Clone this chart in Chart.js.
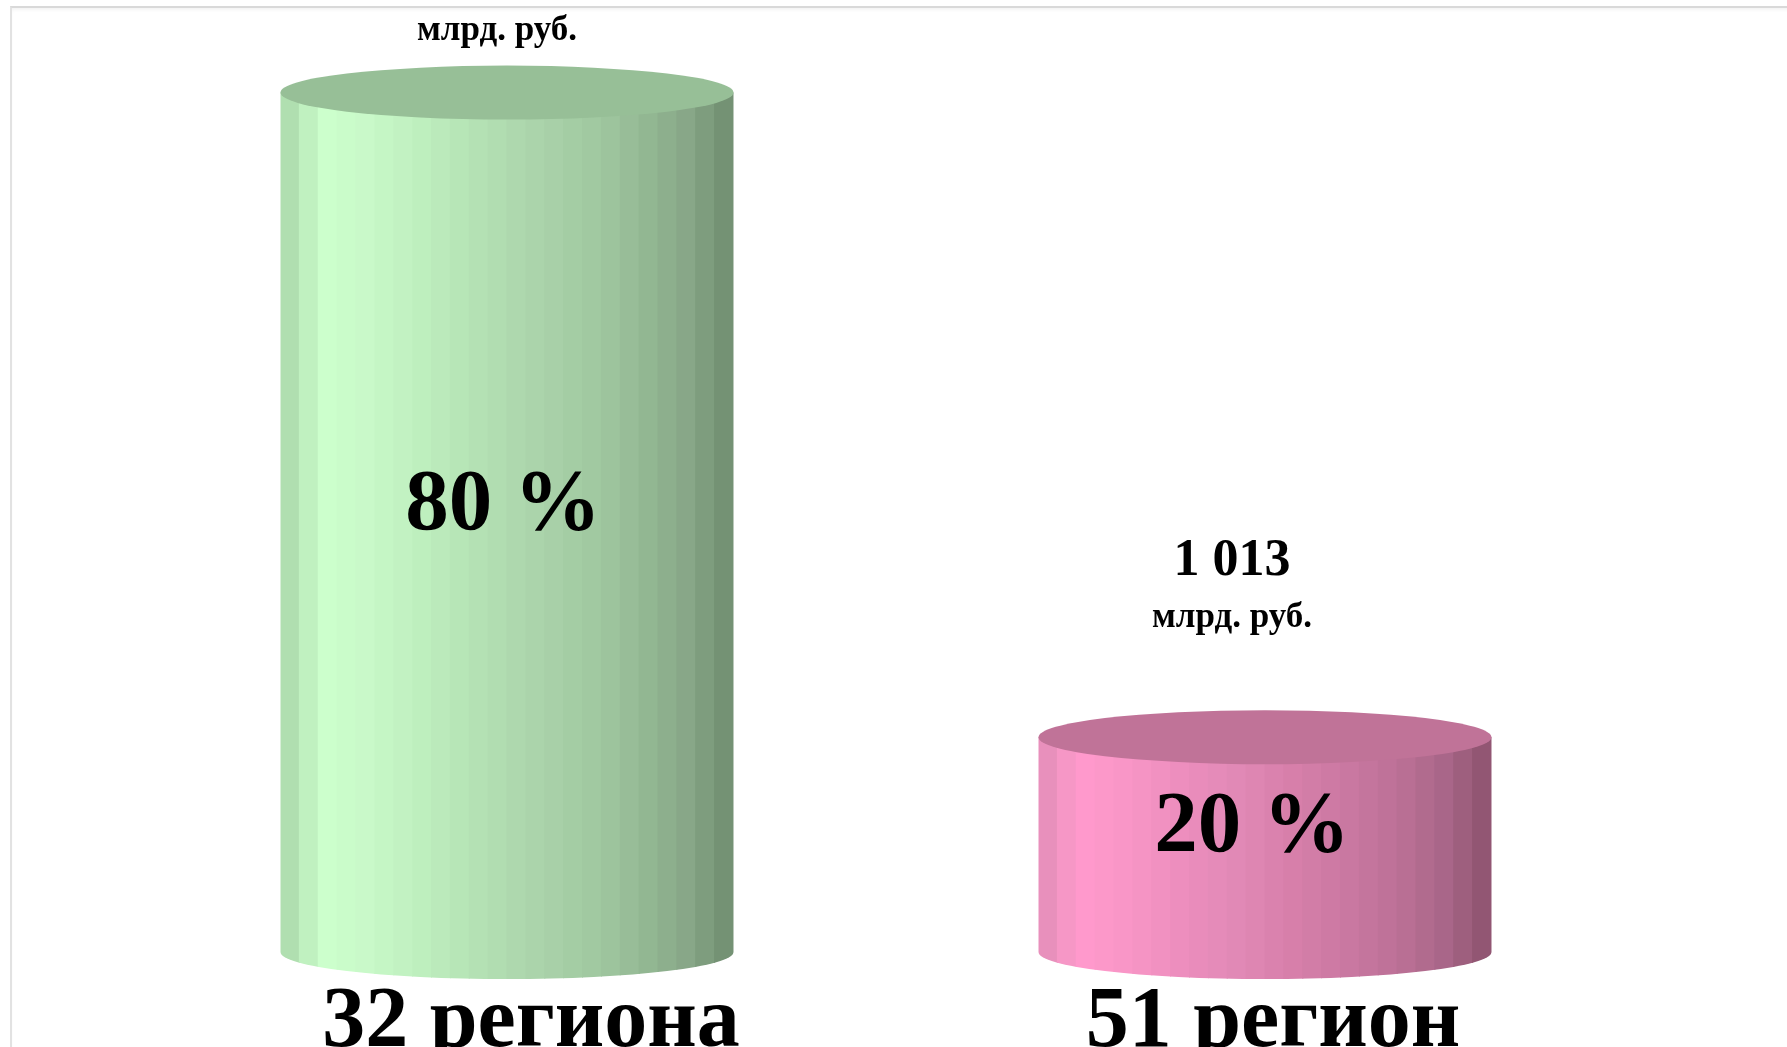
<!DOCTYPE html>
<html>
<head>
<meta charset="utf-8">
<script src="https://cdn.jsdelivr.net/npm/chart.js@4"></script>
<style>
  html, body { margin: 0; padding: 0; background: #ffffff; overflow: hidden; }
  #frame { position: absolute; left: 10px; top: 6px; width: 1800px; height: 1100px;
           border-top: 2px solid #d9d9d9; border-left: 2px solid #e2e2e2; box-shadow: inset 0 3px 4px -2px #eeeeee; }
  #c { position: absolute; left: 0; top: 0; }
</style>
</head>
<body>
<div id="frame"></div>
<canvas id="c" width="1787" height="1047"></canvas>
<script>
// ---- data ----
const categories = ['32 региона', '51 регион'];
const values = [4052, 1013];          // млрд. руб. (first value is off-picture, estimated from 80 %)
const unitLabel = 'млрд. руб.';

// ---- styles ----
const bodyStops = [
  [[0, '#a8d6a8'], [0.04, '#b8e8b8'], [0.1, '#ccffcc'], [0.2, '#c8f8c8'], [0.3, '#bff0bf'], [0.45, '#b3e0b3'],
   [0.55, '#acd5ac'], [0.7, '#a0c8a0'], [0.8, '#94b994'], [0.9, '#87a687'], [1, '#6f8d6f']],
  [[0, '#e08ab4'], [0.04, '#f095c3'], [0.1, '#ff99cc'], [0.2, '#f896c6'], [0.3, '#ee8fbf'], [0.45, '#e088b5'],
   [0.55, '#d880ab'], [0.7, '#c877a0'], [0.8, '#bb7096'], [0.9, '#a86688'], [1, '#8c526e']]
];
const topColors = ['#97bf97', '#c07398'];

function hex2rgb(h) { return [parseInt(h.slice(1,3),16), parseInt(h.slice(3,5),16), parseInt(h.slice(5,7),16)]; }
function colorAt(stops, t) {
  for (let i = 1; i < stops.length; i++) {
    if (t <= stops[i][0]) {
      const a = stops[i-1], b = stops[i];
      const f = (t - a[0]) / (b[0] - a[0]);
      const ca = hex2rgb(a[1]), cb = hex2rgb(b[1]);
      return 'rgb(' + ca.map((v, k) => Math.round(v + (cb[k] - v) * f)).join(',') + ')';
    }
  }
  return stops[stops.length - 1][1];
}
function fmt(v) { return String(v).replace(/\B(?=(\d{3})+(?!\d))/g, ' '); }

const total = values.reduce((a, b) => a + b, 0);

const cylinderPlugin = {
  id: 'cylinders',
  afterDatasetsDraw(chart) {
    const ctx = chart.ctx;
    const meta = chart.getDatasetMeta(0);
    const ry = 27;
    meta.data.forEach((bar, i) => {
      const cx = bar.x, top = bar.y, base = bar.base, w = bar.width;
      const left = cx - w / 2, right = cx + w / 2, rx = w / 2;
      // body
      ctx.save();
      ctx.beginPath();
      ctx.moveTo(left, top);
      ctx.lineTo(right, top);
      ctx.lineTo(right, base);
      ctx.ellipse(cx, base, rx, ry, 0, 0, Math.PI, false);
      ctx.closePath();
      ctx.clip();
      const n = 24;
      for (let s = 0; s < n; s++) {
        ctx.fillStyle = colorAt(bodyStops[i], (s + 0.5) / n);
        ctx.fillRect(left + s * w / n - 0.5, top - 1, w / n + 1, base - top + ry + 2);
      }
      ctx.restore();
      // top ellipse
      ctx.save();
      ctx.beginPath();
      ctx.ellipse(cx, top, rx, ry, 0, 0, Math.PI * 2);
      ctx.fillStyle = topColors[i];
      ctx.fill();
      ctx.restore();

      ctx.save();
      ctx.fillStyle = '#000000';
      ctx.textAlign = 'center';
      ctx.textBaseline = 'middle';
      // percentage inside
      const pct = Math.round(values[i] / total * 100);
      const pOffs = [-4, -13];
      ctx.font = 'bold 87px "Liberation Serif", "DejaVu Serif", serif';
      ctx.fillText(pct + ' %', cx + pOffs[i], (top + base) / 2 - 16);
      // value labels above
      const offs = [-10, -33];
      const unitY = Math.max(top - 119, 31);
      ctx.font = 'bold 35px "Liberation Serif", serif';
      ctx.fillText(unitLabel, cx + offs[i], unitY);
      ctx.font = 'bold 52px "Liberation Serif", serif';
      ctx.fillText(fmt(values[i]), cx + offs[i], unitY - 57);
      // category label
      const cOffs = [24, 8];
      ctx.textBaseline = 'alphabetic';
      ctx.font = 'bold 86px "Liberation Serif", serif';
      ctx.fillText(categories[i], cx + cOffs[i], 1046);
      ctx.restore();
    });
  }
};

new Chart(document.getElementById('c'), {
  type: 'bar',
  data: {
    labels: categories,
    datasets: [{
      data: values,
      backgroundColor: 'rgba(0,0,0,0)',
      borderWidth: 0,
      barPercentage: 1,
      categoryPercentage: 0.5976
    }]
  },
  options: {
    responsive: false,
    devicePixelRatio: 1,
    animation: false,
    layout: { padding: { left: 128, right: 143, top: 40, bottom: 95 } },
    plugins: { legend: { display: false }, tooltip: { enabled: false } },
    scales: {
      x: { display: false },
      y: { display: false, min: 0, max: 4300 }
    }
  },
  plugins: [cylinderPlugin]
});
</script>
</body>
</html>
